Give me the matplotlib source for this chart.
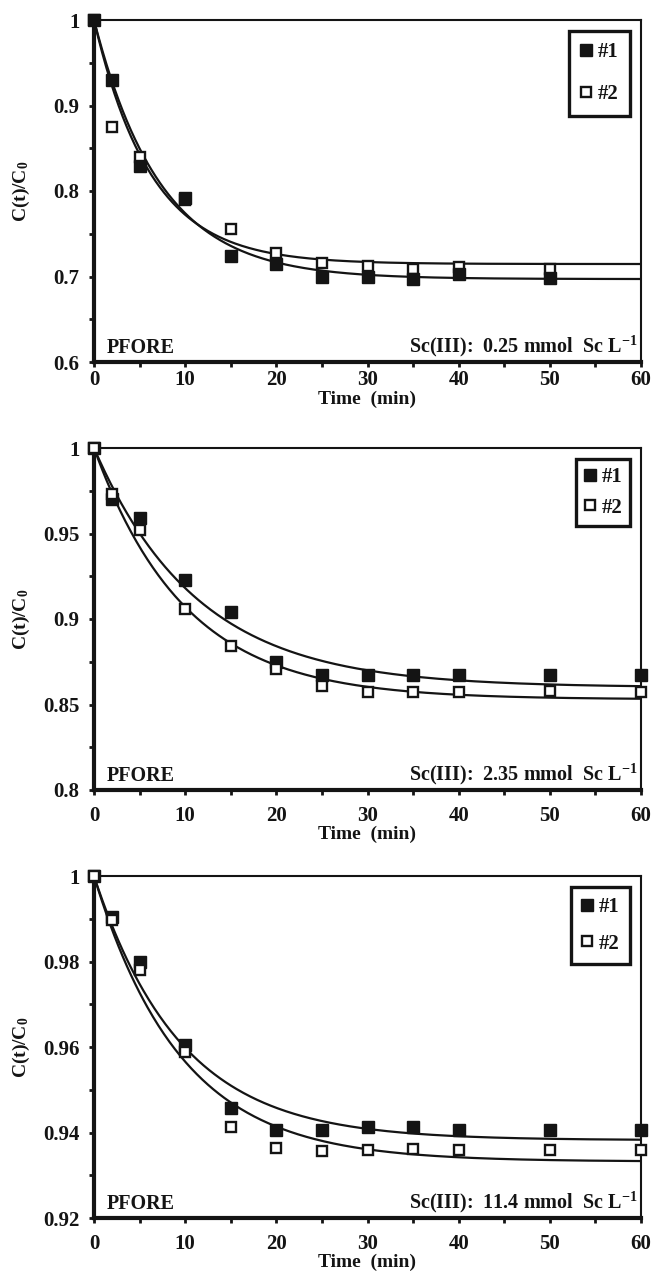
import matplotlib
matplotlib.use("Agg")
import matplotlib.pyplot as plt
import numpy as np
from matplotlib.ticker import FixedLocator, FixedFormatter, MultipleLocator

plt.rcParams['font.family'] = ['Liberation Serif', 'DejaVu Serif']
plt.rcParams['font.weight'] = 'bold'
plt.rcParams['mathtext.fontset'] = 'custom'
plt.rcParams['mathtext.rm'] = 'Liberation Serif:bold'
plt.rcParams['mathtext.it'] = 'Liberation Serif:bold'
plt.rcParams['mathtext.bf'] = 'Liberation Serif:bold'

# Sampling times (min)
time_a = [0, 2, 5, 10, 15, 20, 25, 30, 35, 40, 50]
time_b = [0, 2, 5, 10, 15, 20, 25, 30, 35, 40, 50, 60]

# Normalised concentration C(t)/C0 for the two replicate runs
low_run1 = [1.0, 0.930, 0.829, 0.792, 0.724, 0.715, 0.699, 0.699, 0.697, 0.703, 0.698]
low_run2 = [1.0, 0.875, 0.840, 0.789, 0.755, 0.727, 0.716, 0.712, 0.709, 0.711, 0.709]
mid_run1 = [1.0, 0.970, 0.959, 0.923, 0.904, 0.875, 0.867, 0.867, 0.867, 0.867, 0.867, 0.867]
mid_run2 = [1.0, 0.973, 0.952, 0.906, 0.884, 0.871, 0.861, 0.8575, 0.8575, 0.8575, 0.858, 0.8575]
high_run1 = [1.0, 0.9905, 0.980, 0.9605, 0.9458, 0.9407, 0.9406, 0.9412, 0.9412, 0.9406, 0.9407, 0.9407]
high_run2 = [1.0, 0.9897, 0.978, 0.9589, 0.9414, 0.9364, 0.9357, 0.936, 0.9362, 0.936, 0.936, 0.936]

# Pseudo-first order rate equation fits: equilibrium C/C0 and rate constant k1 (1/min)
low_ceq = [0.697, 0.7146]
low_k = [0.137, 0.160]
mid_ceq = [0.860, 0.853]
mid_k = [0.088, 0.100]
high_ceq = [0.9382, 0.9332]
high_k = [0.105, 0.105]

# Axis ticks and labels
low_yticks = [0.6, 0.7, 0.8, 0.9, 1.0]
low_ylabels = ["0.6", "0.7", "0.8", "0.9", "1"]
mid_yticks = [0.8, 0.85, 0.9, 0.95, 1.0]
mid_ylabels = ["0.8", "0.85", "0.9", "0.95", "1"]
high_yticks = [0.92, 0.94, 0.96, 0.98, 1.0]
high_ylabels = ["0.92", "0.94", "0.96", "0.98", "1"]
xticks = [0, 10, 20, 30, 40, 50, 60]
xlabels = ["0", "10", "20", "30", "40", "50", "60"]

series_labels = ["#1", "#2"]
conc_labels = ["0.25", "2.35", "11.4"]

panels = [
    dict(t=time_a, r1=low_run1, r2=low_run2, ceq=low_ceq, k=low_k,
         yt=low_yticks, yl=low_ylabels, conc=conc_labels[0],
         open_on_top=False, spacing=1.05, pad=0.55, xpad=2.5),
    dict(t=time_b, r1=mid_run1, r2=mid_run2, ceq=mid_ceq, k=mid_k,
         yt=mid_yticks, yl=mid_ylabels, conc=conc_labels[1],
         open_on_top=True, spacing=0.52, pad=0.38, xpad=8),
    dict(t=time_b, r1=high_run1, r2=high_run2, ceq=high_ceq, k=high_k,
         yt=high_yticks, yl=high_ylabels, conc=conc_labels[2],
         open_on_top=True, spacing=0.78, pad=0.5, xpad=8),
]

W, H = 657, 1276
fig = plt.figure(figsize=(W / 100, H / 100), dpi=100)
ink = '#141414'

bottoms_px = [914, 486, 58]
for p, bpx in zip(panels, bottoms_px):
    ax = fig.add_axes([94 / W, bpx / H, 547 / W, 342 / H])
    ax.set_xlim(0, 60)
    ax.set_ylim(p['yt'][0], p['yt'][-1])

    tfit = np.linspace(0, 60, 400)
    for ceq, k in zip(p['ceq'], p['k']):
        ax.plot(tfit, ceq + (1 - ceq) * np.exp(-k * tfit), color=ink, lw=1.6,
                zorder=3, solid_capstyle='butt')

    z1, z2 = (4, 5) if p['open_on_top'] else (5, 4)
    ax.plot(p['t'], p['r1'], ls='none', marker='s', ms=8.2, mfc=ink, mec=ink,
            mew=1.0, label=series_labels[0], zorder=z1, clip_on=False)
    ax.plot(p['t'], p['r2'], ls='none', marker='s', ms=7.4, mfc='white', mec=ink,
            mew=1.7, label=series_labels[1], zorder=z2, clip_on=False)

    # spines: heavy left/bottom, light top/right
    for side, lw in (('left', 3.0), ('bottom', 3.0), ('top', 1.5), ('right', 1.5)):
        ax.spines[side].set_linewidth(lw)
        ax.spines[side].set_color(ink)

    ax.xaxis.set_major_locator(FixedLocator(xticks))
    ax.xaxis.set_major_formatter(FixedFormatter(xlabels))
    ax.xaxis.set_minor_locator(MultipleLocator(5))
    ax.yaxis.set_major_locator(FixedLocator(p['yt']))
    ax.yaxis.set_major_formatter(FixedFormatter(p['yl']))
    step = (p['yt'][1] - p['yt'][0]) / 2
    ax.yaxis.set_minor_locator(MultipleLocator(step))
    ax.tick_params(which='both', direction='out', length=3.5, width=2.0,
                   color=ink, top=False, right=False)
    ax.tick_params(which='major', labelsize=15, labelcolor=ink)
    ax.tick_params(axis='y', which='major', pad=7)
    ax.tick_params(axis='x', which='major', pad=p['xpad'])

    ax.set_xlabel('Time  (min)', fontsize=14, fontweight='bold', labelpad=0, color=ink)
    ax.set_ylabel(r'$\mathrm{C(t)/C_0}$', fontsize=14, color=ink)
    ax.yaxis.set_label_coords(-0.113, 0.5)

    ax.text(0.024, 0.027, 'PFORE', transform=ax.transAxes, fontsize=14.5,
            fontweight='bold', ha='left', va='baseline', color=ink)
    ax.text(0.994, 0.027, 'Sc(III):  ' + p['conc'] + r' mmol  Sc L$^{\mathrm{-1}}$',
            transform=ax.transAxes, fontsize=14.5, fontweight='bold',
            ha='right', va='baseline', color=ink)

    leg = ax.legend(loc='upper right', bbox_to_anchor=(0.98, 0.968),
                    borderaxespad=0, frameon=True, fancybox=False, framealpha=1,
                    fontsize=15, handlelength=0.6, handletextpad=0.25,
                    borderpad=p['pad'], labelspacing=p['spacing'],
                    markerscale=1.0)
    leg.get_frame().set_edgecolor(ink)
    leg.get_frame().set_linewidth(2.4)
    for txt in leg.get_texts():
        txt.set_color(ink)

fig.savefig('out.png', dpi=100)
